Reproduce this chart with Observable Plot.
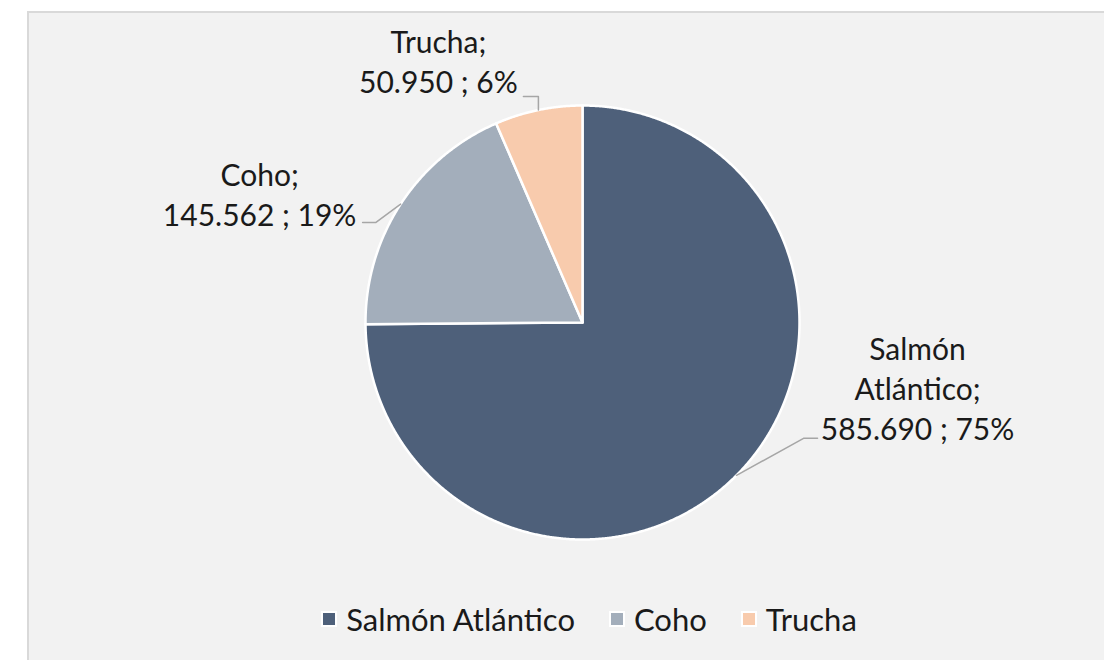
<!DOCTYPE html>
<html>
<head>
<meta charset="utf-8">
<script src="https://cdn.jsdelivr.net/npm/d3@7"></script>
<script src="https://cdn.jsdelivr.net/npm/@observablehq/plot@0.6"></script>
<style>
  html, body { margin: 0; padding: 0; background: #ffffff; width: 1104px; height: 660px; overflow: hidden; }
  #panel { position: absolute; left: 27px; top: 11px; width: 1200px; height: 700px; background: #f2f2f2;
           border-top: 2px solid #d9d9d9; border-left: 2px solid #d9d9d9; }
  #chart { position: absolute; left: 0; top: 0; }
  #legend { position: absolute; left: 0; top: 600px; width: 1178px; height: 38px; display: flex;
            justify-content: center; align-items: center; font-family: Lato, "Open Sans", sans-serif;
            font-size: 31px; color: #1a1a1a; }
  .item { display: flex; align-items: center; margin: 0 17px; }
  .sw { width: 12px; height: 12px; border: 2px solid #ffffff; margin-right: 9px; }
</style>
</head>
<body>
<div id="panel"></div>
<div id="chart"></div>
<div id="legend"></div>
<script>
// ---- data ----
const categories = ["Salmón Atlántico", "Coho", "Trucha"];
const labelNames = ["Salmón\nAtlántico;", "Coho;", "Trucha;"];
const values = [585690, 145562, 50950];
const valueLabels = ["585.690", "145.562", "50.950"];
const percentLabels = ["75%", "19%", "6%"];
const colors = ["#4e607a", "#a3aebb", "#f8cbad"];

// ---- layout (pixel offsets from each slice's outer mid point) ----
const R = 217; // pixels per data unit (pie radius)
const layout = {
  "Salmón Atlántico": {elbow: [67, -37], end: [81, -37], text: [181, -88]},
  "Coho": {elbow: [-25, 18.4], end: [-38, 18.4], text: [-141, -11]},
  "Trucha": {elbow: [0, -13.5], end: [-15, -13.5], text: [-100, -50]}
};

const pie = d3.pie().sort(null).value(d => d.value)(
  categories.map((name, i) => ({name, value: values[i], i}))
);

// slice polygons in data space (angle clockwise from 12 o'clock)
const polys = [];
pie.forEach(p => {
  const name = p.data.name;
  polys.push({name, x: 0, y: 0});
  const n = Math.max(2, Math.ceil((p.endAngle - p.startAngle) / 0.005));
  for (let k = 0; k <= n; k++) {
    const a = p.startAngle + (p.endAngle - p.startAngle) * k / n;
    polys.push({name, x: Math.sin(a), y: Math.cos(a)});
  }
  polys.push({name, x: 0, y: 0});
});

// leader lines and labels
const leaders = [];
const labels = [];
pie.forEach(p => {
  const name = p.data.name, i = p.data.i;
  const m = (p.startAngle + p.endAngle) / 2;
  const ex = Math.sin(m), ey = Math.cos(m);
  const L = layout[name];
  leaders.push({name, x: ex, y: ey});
  leaders.push({name, x: ex + L.elbow[0] / R, y: ey - L.elbow[1] / R});
  leaders.push({name, x: ex + L.end[0] / R, y: ey - L.end[1] / R});
  labels.push({name, x: ex + L.text[0] / R, y: ey - L.text[1] / R,
               text: `${labelNames[i]}\n${valueLabels[i]} ; ${percentLabels[i]}`});
});

const cx = 582, cy = 322, W = 1104, H = 600;
const chart = Plot.plot({
  width: W,
  height: H,
  marginLeft: cx - R,
  marginRight: W - (cx + R),
  marginTop: cy - R,
  marginBottom: H - (cy + R),
  x: {domain: [-1, 1], axis: null},
  y: {domain: [-1, 1], axis: null},
  color: {domain: categories, range: colors},
  style: {background: "transparent", overflow: "visible", fontFamily: "Lato, 'Open Sans', sans-serif"},
  marks: [
    Plot.line(polys, {x: "x", y: "y", z: "name", fill: "name", stroke: "#ffffff", strokeWidth: 2.5, curve: "linear"}),
    Plot.line(leaders, {x: "x", y: "y", z: "name", stroke: "#a6a6a6", strokeWidth: 1.5, curve: "linear"}),
    Plot.text(labels, {x: "x", y: "y", text: "text", fontSize: 30, lineHeight: 1.34, textAnchor: "middle",
                       lineAnchor: "middle", fill: "#1a1a1a"})
  ]
});
document.getElementById("chart").appendChild(chart);

// legend
const legend = document.getElementById("legend");
categories.forEach((c, i) => {
  const item = document.createElement("div");
  item.className = "item";
  const sw = document.createElement("div");
  sw.className = "sw";
  sw.style.background = colors[i];
  const t = document.createElement("span");
  t.textContent = c;
  item.appendChild(sw);
  item.appendChild(t);
  legend.appendChild(item);
});
</script>
</body>
</html>
